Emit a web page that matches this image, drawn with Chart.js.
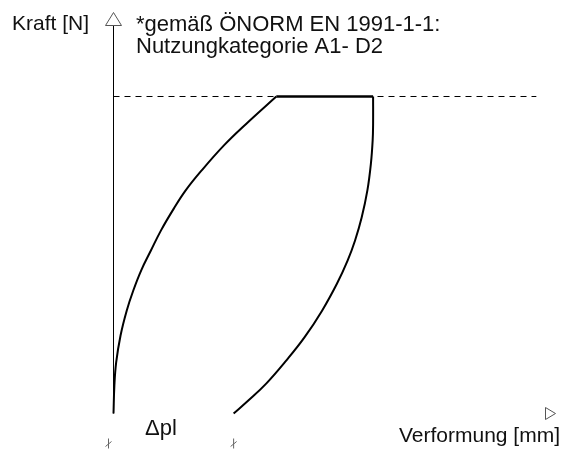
<!DOCTYPE html>
<html>
<head>
<meta charset="utf-8">
<script src="https://cdn.jsdelivr.net/npm/chart.js@4"></script>
<style>
  html, body { margin: 0; padding: 0; background: #fff; }
  #wrap { width: 562px; height: 450px; }
</style>
</head>
<body>
<div id="wrap"><canvas id="chart" width="562" height="450"></canvas></div>
<script>
// Belastung (loading curve)
const loadX = [0, 0.2, 0.6, 1.6, 3.0, 4.5, 6.3, 8.5, 10.8, 13.7, 16.4, 20.0, 25.1, 30.2, 37.0];
const loadY = [0, 7.2, 13.1, 20.1, 26.5, 31.7, 36.9, 42.0, 47.2, 52.8, 57.5, 62.6, 69.1, 74.7, 81.7];

// Plateau at max force
const plateauX = [37.0, 59.0];
const plateauY = [81.7, 81.7];

// Entlastung (unloading curve)
const unloadX = [59.0, 59.0, 58.9, 58.5, 57.7, 56.4, 54.9, 53.2, 50.8, 47.4, 43.4, 39.3, 34.7, 30.7, 27.3];
const unloadY = [81.7, 74.7, 70.4, 64.4, 57.5, 50.5, 44.6, 39.4, 33.5, 26.5, 19.6, 13.7, 7.7, 3.4, 0];

// dashed reference level and the force axis
const refX = [0, 96.1];
const refY = [81.7, 81.7];
const axisX = [0, 0];
const axisY = [0, 100];

const yLabel = "Kraft [N]";
const xLabel = "Verformung [mm]";
const noteLines = ["*gemäß ÖNORM EN 1991-1-1:", "Nutzungkategorie A1- D2"];
const deltaLabel = "\u0394pl";

const FONT = '"Liberation Sans", Arial, sans-serif';

function pts(xs, ys) {
  return xs.map((x, i) => ({ x: x, y: ys[i] }));
}

const decorations = {
  id: 'decorations',
  afterDraw(chart) {
    const ctx = chart.ctx;
    const xs = chart.scales.x;
    const ys = chart.scales.y;
    const x0 = xs.getPixelForValue(0);
    const yTop = ys.getPixelForValue(100);
    const yBase = ys.getPixelForValue(0);
    ctx.save();

    // open arrow heads
    ctx.strokeStyle = '#555';
    ctx.fillStyle = '#fff';
    ctx.lineWidth = 1;
    ctx.beginPath();
    ctx.moveTo(x0 - 8, yTop);
    ctx.lineTo(x0, yTop - 13);
    ctx.lineTo(x0 + 8, yTop);
    ctx.closePath();
    ctx.fill();
    ctx.stroke();

    const xEnd = xs.getPixelForValue(100);
    ctx.beginPath();
    ctx.moveTo(xEnd - 8, yBase - 6);
    ctx.lineTo(xEnd + 2, yBase);
    ctx.lineTo(xEnd - 8, yBase + 6);
    ctx.closePath();
    ctx.fill();
    ctx.stroke();

    // small marks below the plastic deformation
    const marks = [x0 - 5, xs.getPixelForValue(unloadX[unloadX.length - 1])];
    ctx.strokeStyle = '#666';
    marks.forEach(m => {
      ctx.beginPath();
      ctx.moveTo(m, yBase + 25);
      ctx.lineTo(m, yBase + 35);
      ctx.moveTo(m - 3, yBase + 33);
      ctx.lineTo(m + 3, yBase + 28);
      ctx.stroke();
    });

    // texts
    ctx.fillStyle = '#111';
    ctx.textBaseline = 'alphabetic';
    ctx.textAlign = 'left';
    ctx.font = '21px ' + FONT;
    ctx.fillText(yLabel, 12, 30);
    ctx.font = '22px ' + FONT;
    ctx.fillText(noteLines[0], 136, 31);
    ctx.fillText(noteLines[1], 136, 53);
    ctx.font = '22px ' + FONT;
    ctx.fillText(deltaLabel, 145, 435);
    ctx.textAlign = 'right';
    ctx.font = '21px ' + FONT;
    ctx.fillText(xLabel, 560, 442);
    ctx.restore();
  }
};

const curve = { showLine: true, borderColor: '#000', pointRadius: 0, clip: false };

new Chart(document.getElementById('chart'), {
  type: 'scatter',
  data: {
    datasets: [
      { ...curve, data: pts(refX, refY), borderWidth: 1, borderDash: [6, 5] },
      { ...curve, data: pts(axisX, axisY), borderWidth: 1 },
      { ...curve, data: pts(loadX, loadY), borderWidth: 2, tension: 0.4 },
      { ...curve, data: pts(plateauX, plateauY), borderWidth: 2.5 },
      { ...curve, data: pts(unloadX, unloadY), borderWidth: 2, tension: 0.4 }
    ]
  },
  options: {
    responsive: false,
    animation: false,
    layout: { padding: { left: 113.5, right: 8.5, top: 25.5, bottom: 36.5 } },
    plugins: { legend: { display: false }, tooltip: { enabled: false } },
    scales: {
      x: { type: 'linear', min: 0, max: 100, display: false },
      y: { type: 'linear', min: 0, max: 100, display: false }
    }
  },
  plugins: [decorations]
});
</script>
</body>
</html>
